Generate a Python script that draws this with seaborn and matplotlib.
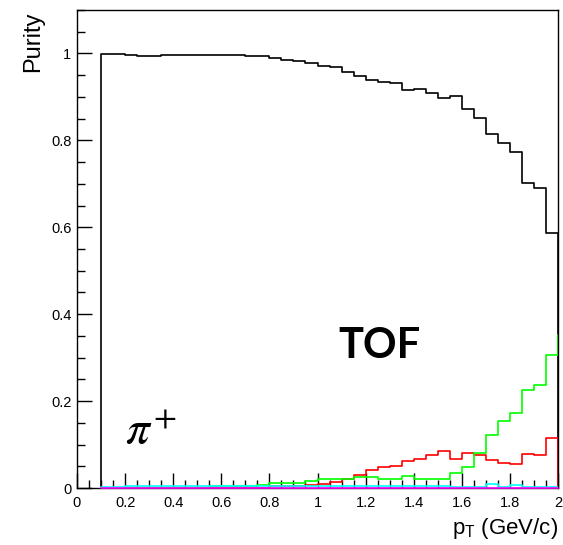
import numpy as np
import pandas as pd
import matplotlib
matplotlib.use("Agg")
import matplotlib.pyplot as plt
import seaborn as sns
from matplotlib.ticker import MultipleLocator, FuncFormatter

# ---- data: histogram bin contents, bins of width 0.05 starting at pT = 0.10
# (a 39th bin, 2.00-2.05, lies outside the drawn range)
bin_width = 0.05
pt_low = 0.10

purity_black = [0.999, 0.999, 0.996, 0.993, 0.993,
                0.996, 0.996, 0.996, 0.996, 0.996, 0.996, 0.996,
                0.993, 0.993, 0.990, 0.985, 0.982, 0.977,
                0.972, 0.968, 0.958, 0.948, 0.938, 0.934, 0.932, 0.915,
                0.918, 0.909, 0.897, 0.902, 0.873, 0.852, 0.814, 0.793,
                0.773, 0.701, 0.690, 0.586, 0.0]
purity_red = [0, 0, 0, 0, 0, 0, 0, 0, 0, 0, 0, 0, 0, 0,
              0.004, 0.004, 0.004, 0.007,
              0.010, 0.0145, 0.021, 0.031, 0.042, 0.048, 0.051, 0.063,
              0.066, 0.075, 0.084, 0.067, 0.080, 0.075, 0.065, 0.058,
              0.055, 0.078, 0.075, 0.114, 0.0]
purity_green = [0, 0, 0, 0, 0, 0, 0, 0, 0,
                0.004, 0.004, 0.004, 0.004, 0.007,
                0.0115, 0.0115, 0.0115, 0.016,
                0.0215, 0.0215, 0.0215, 0.025, 0.025, 0.0215, 0.0215, 0.028,
                0.0215, 0.0215, 0.0215, 0.035, 0.048, 0.080, 0.121, 0.155,
                0.172, 0.225, 0.237, 0.305, 0.352]
purity_cyan = [0.003, 0.003] + [0.0045] * 27 + [0.002, 0.002, 0.002,
               0.010, 0.002, 0.007, 0.002, 0.002, 0.002]
purity_magenta = [0.0] * 38

series_names = ["black", "red", "green", "cyan", "magenta"]
series_values = [purity_black, purity_red, purity_green, purity_cyan, purity_magenta]
series_colors = ["#000000", "#ff0000", "#00ff00", "#00ffff", "#ff00ff"]

x_ticks = [0, 0.2, 0.4, 0.6, 0.8, 1.0, 1.2, 1.4, 1.6, 1.8, 2.0]
y_ticks = [0, 0.2, 0.4, 0.6, 0.8, 1.0]


def step_outline(vals):
    edges = pt_low + bin_width * np.arange(len(vals) + 1)
    xs, ys = [edges[0]], [0.0]
    for i, v in enumerate(vals):
        xs += [edges[i], edges[i + 1]]
        ys += [v, v]
    xs.append(edges[-1])
    ys.append(0.0)
    return xs, ys


frames = []
for name, vals in zip(series_names, series_values):
    xs, ys = step_outline(vals)
    frames.append(pd.DataFrame({"pt": xs, "purity": ys, "series": name}))
df = pd.concat(frames, ignore_index=True)

sns.set_style("white")
plt.rcParams["font.family"] = ["Liberation Sans", "DejaVu Sans"]
plt.rcParams["text.color"] = "black"
plt.rcParams["axes.labelcolor"] = "black"

fig = plt.figure(figsize=(5.63, 5.45), dpi=100)
ax = fig.add_axes([77 / 563, 1 - 488 / 545, 481 / 563, 478 / 545])

for name, color in zip(series_names, series_colors):
    sub = df[df["series"] == name]
    sns.lineplot(data=sub, x="pt", y="purity", color=color, estimator=None,
                 sort=False, linewidth=1.2, ax=ax, legend=False, zorder=3,
                 clip_on=(name != "magenta"))

ax.set_xlim(0, 2)
ax.set_ylim(0, 1.1)
ax.set_xticks(x_ticks)
ax.set_yticks(y_ticks)
ax.xaxis.set_minor_locator(MultipleLocator(0.05))
ax.yaxis.set_minor_locator(MultipleLocator(0.05))
fmt = FuncFormatter(lambda v, p: f"{v:g}")
ax.xaxis.set_major_formatter(fmt)
ax.yaxis.set_major_formatter(fmt)
ax.tick_params(which="both", direction="in", bottom=True, left=True,
               top=False, right=False, color="black", width=1.0,
               labelsize=10.5, labelcolor="black")
ax.tick_params(which="major", length=11)
ax.tick_params(which="minor", length=5.5)
ax.tick_params(axis="x", which="major", pad=6)
ax.tick_params(axis="y", which="major", pad=4)
for sp in ax.spines.values():
    sp.set_color("black")
    sp.set_linewidth(1.0)

ax.set_xlabel(r"p$_{\mathregular{T}}$ (GeV/c)", fontsize=16, loc="right",
              color="black")
ax.xaxis.set_label_coords(1.0, -0.058)
ax.set_ylabel("Purity", fontsize=17, loc="top", color="black")
ax.yaxis.set_label_coords(-0.068, 0.996)

ax.text(1.256, 0.299, "TOF", fontsize=30, fontweight="bold", family="Lato",
        color="black", ha="center", va="baseline")
ax.text(0.2, 0.104, r"$\pi$", fontsize=34, math_fontfamily="stix",
        color="black", ha="left", va="baseline")
ax.text(0.318, 0.1415, r"$+$", fontsize=24, math_fontfamily="stix",
        color="black", ha="left", va="baseline")

fig.savefig("out.png", dpi=100)
